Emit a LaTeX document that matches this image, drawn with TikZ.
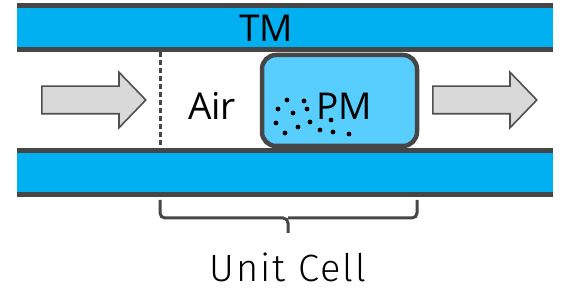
\documentclass[tikz,border=0pt]{standalone}
\usepackage{fontspec}
\setmainfont{Open Sans}
\newfontfamily\lightfont{Fira Sans}[UprightFont=* Light,LetterSpace=5]
\usetikzlibrary{positioning,shapes.arrows}
\definecolor{band}{RGB}{0,176,240}
\definecolor{pmblue}{RGB}{88,206,255}
\definecolor{edge}{RGB}{70,70,70}
\definecolor{flow}{RGB}{217,217,217}
\definecolor{flowedge}{RGB}{80,80,80}

\begin{document}
\begin{tikzpicture}[x=1pt,y=-1pt,
  flowarrow/.style={single arrow,draw=flowedge,fill=flow,line width=1.6pt,
    minimum height=104pt,inner xsep=0pt,inner ysep=13pt,
    single arrow head extend=14pt,single arrow tip angle=92,anchor=tail},
  label/.style={font=\fontsize{37}{37}\selectfont,inner sep=0pt,anchor=base}]
\useasboundingbox (0,0) rectangle (576,288);
% tubes
\fill[band] (17,5.5) rectangle (553,49.5);
\fill[band] (17,150.5) rectangle (553,194.5);
\draw[edge,line width=5pt] (17,5.5)--(553,5.5) (17,49.5)--(553,49.5);
\draw[edge,line width=5pt] (17,150.5)--(553,150.5) (17,194.5)--(553,194.5);
\node[label] (tm) at (266,42) {TM};
% unit cell
\draw[edge,line width=3pt,dash pattern=on 5pt off 3pt] (160,52)--(160,148);
\node[draw=edge,fill=pmblue,line width=4.5pt,rounded corners=14pt,
  minimum width=155pt,minimum height=91pt] (pm) at (339.5,100.5) {};
\foreach \dx/\dy in {287/100,304/101,278/109,293/113,307/109,276/123,298/127,
  310/122,331/120,285/133,320/130,333/132,349/134}
  \fill (\dx,\dy) circle (2.4pt);
\node[label] (pmtext) at (344,120) {PM};
\node[label] (air) at (212,120) {Air};
% flow
\node[flowarrow] (in) at (41,100) {};
\node[flowarrow] (out) at (432,100) {};
% brace
\coordinate (bl) at (160,200);
\coordinate (br) at (417,200);
\coordinate (tip) at (288,233);
\draw[edge,line width=3pt,rounded corners=5pt] (bl)--(160,218)--(288,218)--(tip);
\draw[edge,line width=3pt,rounded corners=5pt] (br)--(417,218)--(288,218);
\node[font=\lightfont\fontsize{38}{38}\selectfont,inner sep=0pt,anchor=base]
  (cell) at (288,282) {Unit Cell};
\end{tikzpicture}
\end{document}
